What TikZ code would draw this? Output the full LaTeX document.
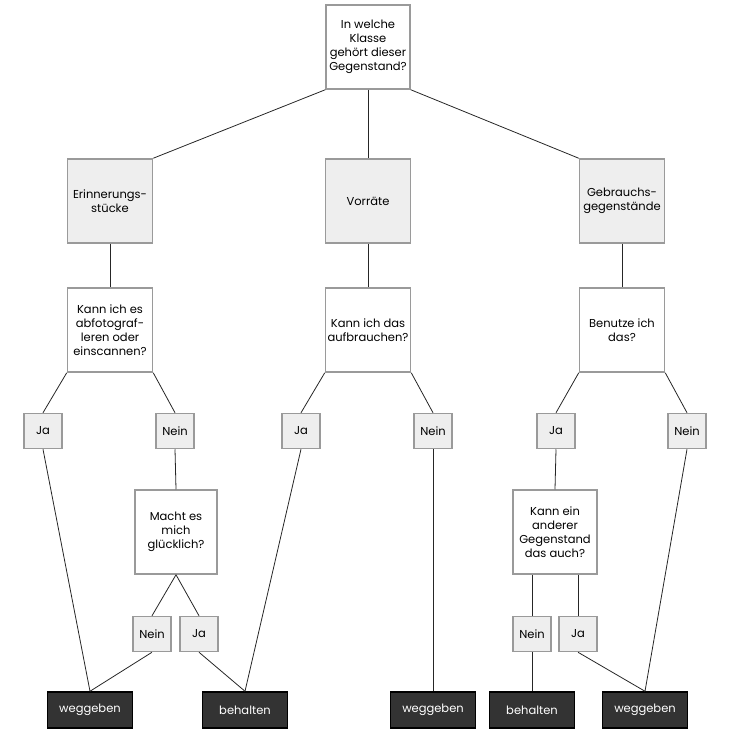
\documentclass[tikz,border=0pt]{standalone}
\usepackage{fontspec}
\setmainfont{Poppins}
\usepackage{xcolor}
\usetikzlibrary{positioning}

\definecolor{boxgrey}{HTML}{9A9A9A}
\definecolor{boxfill}{HTML}{EEEEEE}
\definecolor{darkfill}{HTML}{333333}

\tikzset{
  question/.style={draw=boxgrey, line width=1.5pt, fill=white, align=center,
    minimum width=84pt, minimum height=84pt, inner sep=1pt, font=\fontsize{11.5}{14}\selectfont},
  category/.style={question, fill=boxfill},
  answer/.style={draw=boxgrey, line width=1.5pt, fill=boxfill, minimum width=38pt,
    minimum height=35pt, inner sep=1pt, font=\fontsize{11.5}{14}\selectfont},
  result/.style={draw=black, line width=1.5pt, fill=darkfill, text=white,
    minimum width=85pt, minimum height=36pt, inner sep=1pt, font=\fontsize{11.5}{14}\selectfont},
  link/.style={draw=black!85, line width=0.8pt}
}

\begin{document}
\begin{tikzpicture}[x=1pt, y=-1pt]
    \useasboundingbox (0,0) rectangle (730,738);

    % Frage ganz oben
    \node[question] (klasse) at (368,47) {In welche\\Klasse\\gehört dieser\\Gegenstand?};

    % Kategorien
    \node[category, minimum width=85pt] (erinnerung) at (110,201) {Erinnerungs-\\stücke};
    \node[category, minimum width=85pt] (vorraete) at (368,201) {Vorräte};
    \node[category, minimum width=85pt] (gebrauch) at (622,201) {Gebrauchs-\\gegenstände};

    % zweite Fragen
    \node[question, minimum width=85pt] (foto) at (110,330) {Kann ich es\\abfotograf-\\leren oder\\einscannen?};
    \node[question, minimum width=85pt] (aufbrauchen) at (368,330) {Kann ich das\\aufbrauchen?};
    \node[question, minimum width=85pt] (benutze) at (622,330) {Benutze ich\\das?};

    % Antworten
    \node[answer] (fotoja) at (43,431) {Ja};
    \node[answer] (fotonein) at (175,431) {Nein};
    \node[answer] (aufja) at (301,431) {Ja};
    \node[answer] (aufnein) at (433,431) {Nein};
    \node[answer] (benja) at (556,431) {Ja};
    \node[answer] (bennein) at (687,431) {Nein};

    % dritte Fragen
    \node[question, minimum width=82pt] (gluecklich) at (176,532) {Macht es\\mich\\glücklich?};
    \node[question] (anderer) at (555,532) {Kann ein\\anderer\\Gegenstand\\das auch?};

    \node[answer] (gluecknein) at (152,634) {Nein};
    \node[answer] (glueckja) at (199,634) {Ja};
    \node[answer] (andnein) at (532,634) {Nein};
    \node[answer] (andja) at (578,634) {Ja};

    % Ergebnisse
    \node[result] (weg1) at (90,710) {weggeben};
    \node[result] (beh1) at (245,710) {behalten};
    \node[result] (weg2) at (433,710) {weggeben};
    \node[result] (beh2) at (532,710) {behalten};
    \node[result] (weg3) at (645,710) {weggeben};

    % Verbindungen
    \draw[link] (klasse.south west) -- (erinnerung.north east);
    \draw[link] (klasse.south) -- (vorraete.north);
    \draw[link] (klasse.south east) -- (gebrauch.north west);

    \draw[link] (erinnerung.south) -- (foto.north);
    \draw[link] (vorraete.south) -- (aufbrauchen.north);
    \draw[link] (gebrauch.south) -- (benutze.north);

    \draw[link] (foto.south west) -- (fotoja.north);
    \draw[link] (foto.south east) -- (fotonein.north);
    \draw[link] (aufbrauchen.south west) -- (aufja.north);
    \draw[link] (aufbrauchen.south east) -- (aufnein.north);
    \draw[link] (benutze.south west) -- (benja.north);
    \draw[link] (benutze.south east) -- (bennein.north);

    \draw[link] (fotonein.south) -- (gluecklich.north);
    \draw[link] (benja.south) -- (anderer.north);

    \draw[link] (gluecklich.south) -- (gluecknein.north);
    \draw[link] (gluecklich.south) -- (glueckja.north);
    \draw[link] (andnein.north |- anderer.south) -- (andnein.north);
    \draw[link] (andja.north |- anderer.south) -- (andja.north);

    \draw[link] (fotoja.south) -- (weg1.north);
    \draw[link] (gluecknein.south) -- (weg1.north);
    \draw[link] (glueckja.south) -- (beh1.north);
    \draw[link] (aufja.south) -- (beh1.north);
    \draw[link] (aufnein.south) -- (weg2.north);
    \draw[link] (andnein.south) -- (beh2.north);
    \draw[link] (andja.south) -- (weg3.north);
    \draw[link] (bennein.south) -- (weg3.north);
\end{tikzpicture}
\end{document}
